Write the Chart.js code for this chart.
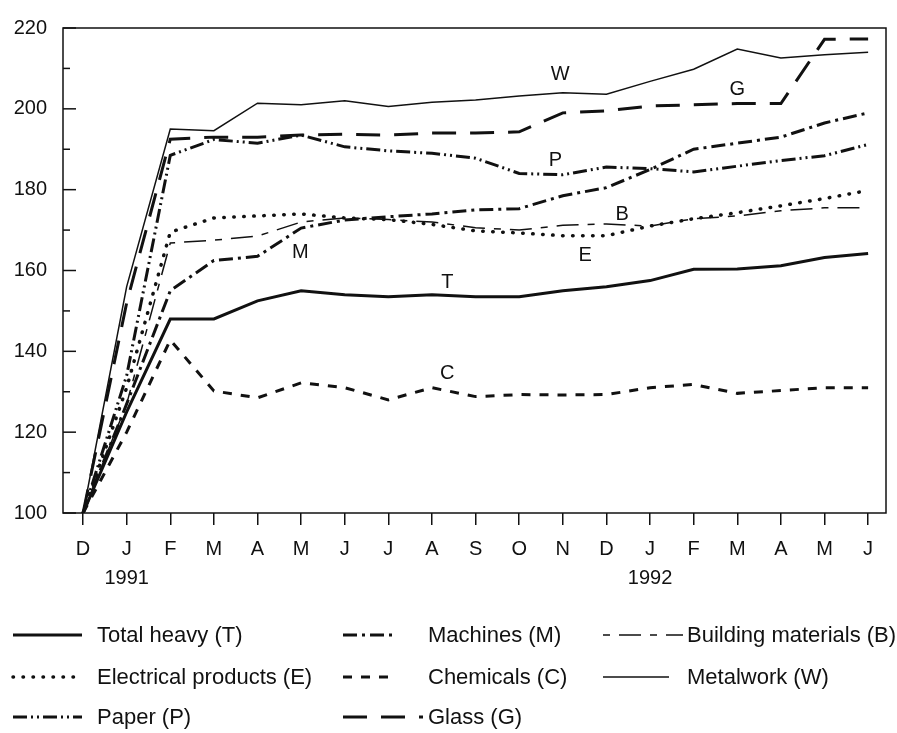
<!DOCTYPE html>
<html>
<head>
<meta charset="utf-8">
<script src="https://cdn.jsdelivr.net/npm/chart.js@4.4.1/dist/chart.umd.min.js"></script>
<style>
  html, body { margin: 0; padding: 0; background: #fff; }
  #wrap { position: relative; width: 897px; height: 733px; font-family: "Liberation Sans", Arial, sans-serif; color: #111; }
  #wrap canvas { position: absolute; left: 0; top: 0; }
  .key { position: absolute; font-size: 22px; line-height: 24px; white-space: nowrap; }
  .swatch { position: absolute; }
</style>
</head>
<body>
<div id="wrap"><canvas id="chart" width="897" height="733"></canvas></div>
<script>
// month ticks, Dec 1990 .. Jun 1992
const months = ['D', 'J', 'F', 'M', 'A', 'M', 'J', 'J', 'A', 'S', 'O', 'N', 'D', 'J', 'F', 'M', 'A', 'M', 'J'];
const yearAt = { 1: '1991', 13: '1992' };
const yTicks = [100, 120, 140, 160, 180, 200, 220];

// index values (Dec 1990 = 100)
const totalHeavy = [100, 125, 148, 148, 152.5, 155, 154, 153.5, 154, 153.5, 153.5, 155, 156, 157.5, 160.3, 160.4, 161.2, 163.2, 164.2];
const machines   = [100, 127, 155, 162.5, 163.5, 170.5, 172.5, 173.3, 174, 175, 175.3, 178.5, 180.5, 185, 190, 191.5, 193, 196.5, 199];
const building   = [100, 127, 166.8, 167.5, 168.5, 172, 173, 172.6, 172, 170.6, 170, 171.2, 171.5, 171, 172.8, 173.5, 174.8, 175.5, 175.5];
const electrical = [100, 131, 169.5, 173, 173.5, 174, 173, 172.6, 171.4, 169.8, 169.3, 168.6, 168.6, 171, 172.8, 174.3, 176, 177.8, 179.8];
const chemicals  = [100, 120, 142.8, 130.2, 128.5, 132.2, 131, 128, 131, 128.8, 129.3, 129.2, 129.3, 131, 131.8, 129.6, 130.3, 131, 131];
const metalwork  = [100, 156, 195, 194.6, 201.4, 201, 202, 200.6, 201.6, 202.2, 203.2, 204, 203.6, 206.8, 209.8, 214.8, 212.6, 213.4, 214];
const paper      = [100, 134, 188.5, 192.4, 191.5, 193.5, 190.6, 189.6, 189, 187.8, 184, 183.7, 185.6, 185.2, 184.4, 185.8, 187.2, 188.4, 191.2];
const glass      = [100, 152, 192.5, 193, 193, 193.5, 193.7, 193.5, 194, 194, 194.3, 199, 199.5, 200.7, 201, 201.3, 201.3, 217.2, 217.3];

// letters written next to the lines (month index, value)
const tags = [
  { text: 'W', i: 10.94, v: 208.6 },
  { text: 'G', i: 15.0, v: 204.9 },
  { text: 'P', i: 10.83, v: 187.3 },
  { text: 'B', i: 12.36, v: 173.8 },
  { text: 'E', i: 11.51, v: 163.7 },
  { text: 'M', i: 4.98, v: 164.5 },
  { text: 'T', i: 8.35, v: 157.1 },
  { text: 'C', i: 8.35, v: 134.6 }
];

const ink = '#111';
const family = '"Liberation Sans", Arial, sans-serif';

// legend order is row by row, three columns
const series = [
  { label: 'Total heavy (T)', data: totalHeavy, width: 3, dash: [], keyLen: 69 },
  { label: 'Machines (M)', data: machines, width: 3, dash: [14, 5, 3, 5], keyLen: 54 },
  { label: 'Building materials (B)', data: building, width: 1.5, dash: [7, 9, 22, 9], keyLen: 80 },
  { label: 'Electrical products (E)', data: electrical, width: 3.5, dash: [0.5, 9.5], cap: 'round', keyLen: 65 },
  { label: 'Chemicals (C)', data: chemicals, width: 3, dash: [9, 9], keyLen: 54 },
  { label: 'Metalwork (W)', data: metalwork, width: 1.5, dash: [], keyLen: 66 },
  { label: 'Paper (P)', data: paper, width: 3, dash: [14, 4, 2, 4, 2, 4], keyLen: 69 },
  { label: 'Glass (G)', data: glass, width: 3, dash: [24, 14], keyLen: 80 }
];

const frame = {
  id: 'frame',
  afterDraw(chart) {
    const { ctx, chartArea: a, scales: { x, y } } = chart;
    ctx.save();
    ctx.strokeStyle = ink;
    ctx.lineWidth = 1.5;
    ctx.strokeRect(a.left, a.top, a.right - a.left, a.bottom - a.top);
    // y ticks point inwards, long at labelled values
    for (let v = 100; v <= 220; v += 10) {
      const py = y.getPixelForValue(v);
      const len = yTicks.includes(v) ? 13 : 7;
      ctx.beginPath();
      ctx.moveTo(a.left, py);
      ctx.lineTo(a.left + len, py);
      ctx.stroke();
    }
    ctx.fillStyle = ink;
    ctx.font = '20px ' + family;
    ctx.textAlign = 'center';
    ctx.textBaseline = 'middle';
    tags.forEach(t => ctx.fillText(t.text, x.getPixelForValue(t.i), y.getPixelForValue(t.v)));
    ctx.restore();
  }
};

new Chart(document.getElementById('chart'), {
  type: 'line',
  data: {
    datasets: series.map(s => ({
      label: s.label,
      data: s.data.map((v, i) => ({ x: i, y: v })),
      borderColor: ink,
      borderWidth: s.width,
      borderDash: s.dash,
      borderCapStyle: s.cap || 'butt',
      pointRadius: 0,
      tension: 0,
      fill: false
    }))
  },
  options: {
    responsive: false,
    animation: false,
    devicePixelRatio: 1,
    layout: { padding: { left: 0, right: 11, top: 21, bottom: 140 } },
    plugins: { legend: { display: false }, tooltip: { enabled: false } },
    scales: {
      x: {
        type: 'linear',
        min: -0.46,
        max: 18.41,
        afterBuildTicks: axis => { axis.ticks = months.map((m, i) => ({ value: i })); },
        afterFit: axis => { axis.height = 80; },
        ticks: {
          autoSkip: false,
          maxRotation: 0,
          padding: 10,
          color: ink,
          font: { size: 20, family, lineHeight: 1.45 },
          callback: v => yearAt[v] ? [months[v], yearAt[v]] : months[v]
        },
        grid: { drawOnChartArea: false, drawTicks: true, tickLength: 12, color: ink, lineWidth: 1.5 },
        border: { display: false }
      },
      y: {
        min: 100,
        max: 220,
        afterFit: axis => { axis.width = 63; },
        ticks: {
          stepSize: 20,
          padding: 16,
          color: ink,
          font: { size: 20, family }
        },
        grid: { drawOnChartArea: false, drawTicks: false },
        border: { display: false }
      }
    }
  },
  plugins: [frame]
});

// legend: three columns of line sample + label
const wrap = document.getElementById('wrap');
const cols = [{ line: 13, text: 97 }, { line: 343, text: 428 }, { line: 603, text: 687 }];
const rows = [635, 677, 717];
series.forEach((s, k) => {
  const c = cols[k % 3], r = rows[Math.floor(k / 3)];
  const svg = document.createElementNS('http://www.w3.org/2000/svg', 'svg');
  svg.setAttribute('class', 'swatch');
  svg.setAttribute('width', s.keyLen + 4);
  svg.setAttribute('height', 10);
  svg.style.left = (c.line - 2) + 'px';
  svg.style.top = (r - 5) + 'px';
  const ln = document.createElementNS('http://www.w3.org/2000/svg', 'line');
  ln.setAttribute('x1', 2); ln.setAttribute('x2', s.keyLen + 2);
  ln.setAttribute('y1', 5); ln.setAttribute('y2', 5);
  ln.setAttribute('stroke', ink);
  ln.setAttribute('stroke-width', s.width);
  ln.setAttribute('stroke-linecap', s.cap || 'butt');
  if (s.dash.length) ln.setAttribute('stroke-dasharray', s.dash.join(' '));
  svg.appendChild(ln);
  wrap.appendChild(svg);
  const t = document.createElement('div');
  t.className = 'key';
  t.style.left = c.text + 'px';
  t.style.top = (r - 12) + 'px';
  t.textContent = s.label;
  wrap.appendChild(t);
});
</script>
</body>
</html>
